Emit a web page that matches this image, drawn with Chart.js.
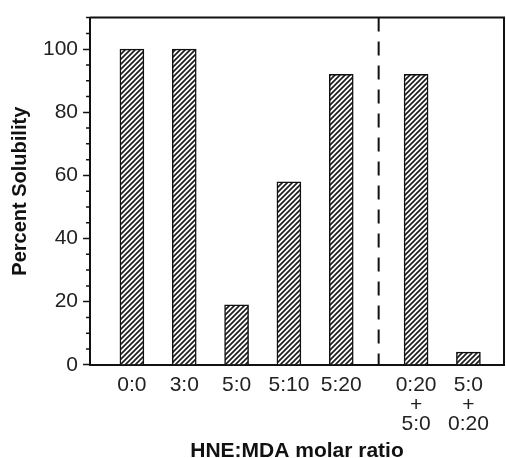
<!DOCTYPE html>
<html>
<head>
<meta charset="utf-8">
<script src="https://cdn.jsdelivr.net/npm/chart.js@4.4.0/dist/chart.umd.min.js"></script>
<style>
  html, body { margin: 0; padding: 0; background: #fff; }
  #wrap { width: 506px; height: 458px; }
</style>
</head>
<body>
<div id="wrap"><canvas id="canvas" width="506" height="458"></canvas></div>
<script>
// data
var ratioLabels = ["0:0", "3:0", "5:0", "5:10", "5:20", ["0:20", "+", "5:0"], ["5:0", "+", "0:20"]];
var solubility = [100, 100, 19, 58, 92, 92, 4];
var yTickLabels = [0, 20, 40, 60, 80, 100];

// the last two bars sit past a dashed divider, a bit further apart
var groupGap = 0.43;
var splitAt = 5;
var positions = solubility.map(function (v, i) {
  return i + 1 + (i >= splitAt ? groupGap : 0);
});
var dividerX = splitAt + (1 + groupGap) / 2;

var points = solubility.map(function (v, i) {
  return { x: positions[i], y: v };
});

// hatch fill
function makeHatch() {
  var c = document.createElement("canvas");
  c.width = 5;
  c.height = 5;
  var g = c.getContext("2d");
  g.fillStyle = "#fff";
  g.fillRect(0, 0, 5, 5);
  g.strokeStyle = "#1e1e1e";
  g.lineWidth = 1.7;
  g.beginPath();
  g.moveTo(-1, 6); g.lineTo(6, -1);
  g.moveTo(-1, 1); g.lineTo(1, -1);
  g.moveTo(4, 6); g.lineTo(6, 4);
  g.stroke();
  return document.getElementById("canvas").getContext("2d").createPattern(c, "repeat");
}

var font = '"Liberation Sans", Arial, Helvetica, sans-serif';

function isMajor(v) {
  return yTickLabels.indexOf(v) >= 0;
}

var frameAndDivider = {
  id: "frameAndDivider",
  afterDraw: function (chart) {
    var ctx = chart.ctx;
    var a = chart.chartArea;
    ctx.save();
    ctx.strokeStyle = "#111";
    ctx.lineWidth = 2;
    ctx.beginPath();
    ctx.moveTo(a.left, a.top);
    ctx.lineTo(a.right, a.top);
    ctx.lineTo(a.right, a.bottom);
    ctx.stroke();

    // short minor ticks on the y axis
    var ys = chart.scales.y;
    ctx.lineWidth = 1.5;
    ctx.beginPath();
    ys.ticks.forEach(function (t) {
      if (isMajor(t.value)) return;
      var y = ys.getPixelForValue(t.value);
      ctx.moveTo(a.left - 4, y);
      ctx.lineTo(a.left, y);
    });
    ctx.stroke();

    var x = chart.scales.x.getPixelForValue(dividerX);
    ctx.lineWidth = 2;
    ctx.setLineDash([14, 10]);
    ctx.beginPath();
    ctx.moveTo(x, a.top);
    ctx.lineTo(x, a.bottom);
    ctx.stroke();
    ctx.restore();
  }
};

const ctx = document.getElementById("canvas").getContext("2d");

const myChart = new Chart(ctx, {
  type: "bar",
  data: {
    datasets: [
      {
        label: "Percent Solubility",
        data: points,
        backgroundColor: makeHatch(),
        borderColor: "#111",
        borderWidth: 1.5,
        barThickness: 24,
      },
    ],
  },
  options: {
    responsive: false,
    animation: false,
    layout: { padding: { top: 12, right: 2, left: 8, bottom: 0 } },
    plugins: {
      legend: { display: false },
      tooltip: { enabled: false },
    },
    scales: {
      x: {
        type: "linear",
        offset: false,
        min: 0.2,
        max: 8.11,
        grid: { display: true, drawOnChartArea: false, drawTicks: false },
        border: { color: "#111", width: 2 },
        afterBuildTicks: function (scale) {
          scale.ticks = positions.map(function (p) { return { value: p }; });
        },
        ticks: {
          autoSkip: false,
          maxRotation: 0,
          padding: 11,
          color: "#222",
          font: { family: font, size: 21, lineHeight: 0.93 },
          callback: function (value, index) {
            return ratioLabels[index];
          },
        },
        title: {
          display: true,
          text: "HNE:MDA molar ratio",
          color: "#111",
          font: { family: font, size: 21, weight: "bold", lineHeight: 0.6 },
          padding: { top: 0, bottom: 0 },
        },
      },
      y: {
        min: 0,
        max: 110,
        grid: {
          display: true,
          drawOnChartArea: false,
          tickLength: 7,
          tickWidth: 1.5,
          tickColor: function (c) {
            return c.tick && isMajor(c.tick.value) ? "#111" : "rgba(0,0,0,0)";
          },
        },
        border: { color: "#111", width: 2 },
        ticks: {
          stepSize: 5,
          autoSkip: false,
          maxTicksLimit: 40,
          padding: 5,
          color: "#222",
          font: { family: font, size: 21 },
          callback: function (v) {
            return isMajor(v) ? v : "";
          },
        },
        title: {
          display: true,
          text: "Percent Solubility",
          color: "#111",
          font: { family: font, size: 20, weight: "bold" },
          padding: { top: 0, bottom: 6 },
        },
      },
    },
  },
  plugins: [frameAndDivider],
});
</script>
</body>
</html>
